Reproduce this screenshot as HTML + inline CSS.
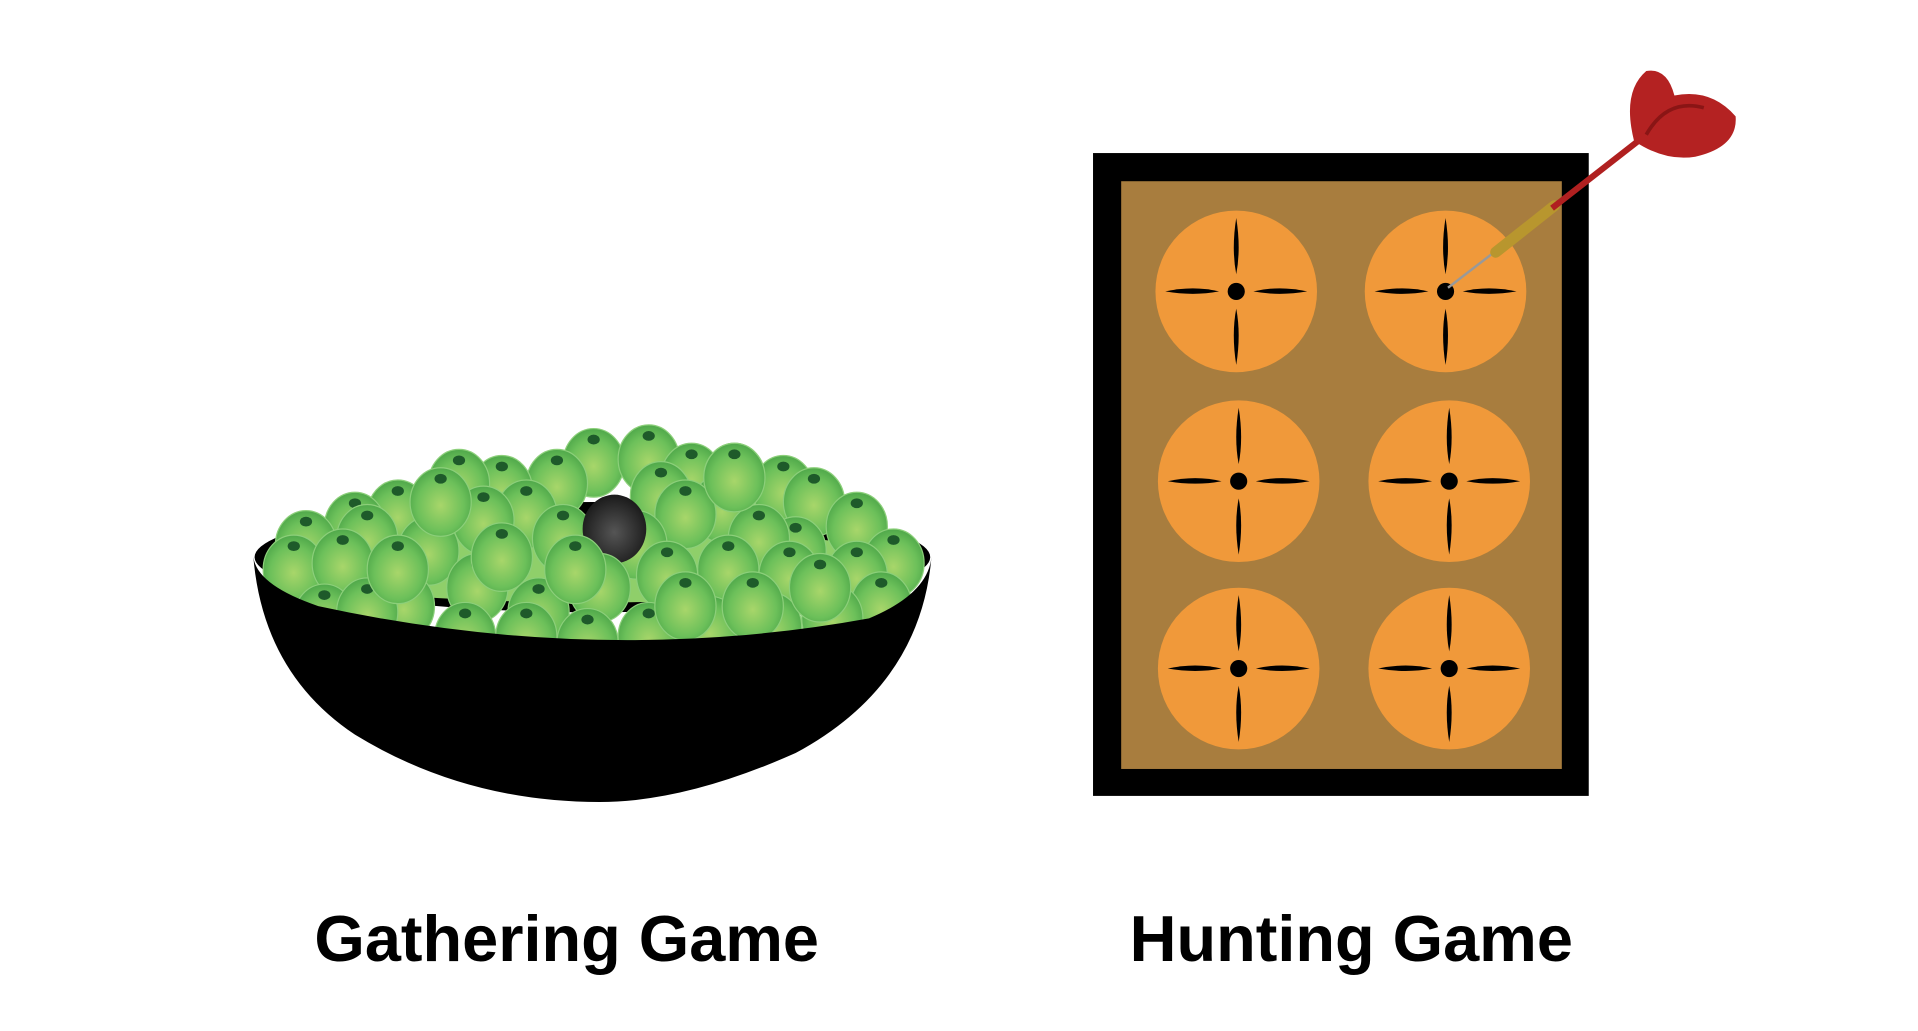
<!DOCTYPE html>
<html><head><meta charset="utf-8"><style>
html,body{margin:0;padding:0;background:#fff;width:1918px;height:1031px;overflow:hidden}
svg{display:block}
</style></head><body>
<svg width="1918" height="1031" viewBox="0 0 1567 842" preserveAspectRatio="none" xmlns="http://www.w3.org/2000/svg">
<defs>
<radialGradient id="pea" cx="0.5" cy="0.55" r="0.55"><stop offset="0" stop-color="#a8d66a"/><stop offset="0.7" stop-color="#6cc05a"/><stop offset="1" stop-color="#4fa84a"/></radialGradient>
<radialGradient id="blk" cx="0.5" cy="0.55" r="0.55"><stop offset="0" stop-color="#555"/><stop offset="1" stop-color="#1a1a1a"/></radialGradient>
<clipPath id="bowlclip"><path d="M200 300 L770 300 L770 470 Q750 500 700 510 Q490 545 260 505 Q212 490 205 470 Z"/></clipPath>
</defs>
<g>
<ellipse cx="484" cy="455" rx="276" ry="45" fill="#000"/>
<ellipse cx="484" cy="462" rx="266" ry="30" fill="#8fcf6a"/>
<g id="peas" clip-path="url(#bowlclip)"></g>
<path d="M207 455 Q210 478 260 495 Q490 545 710 505 Q758 485 761 455 Q752 560 650 615 Q560 655 490 655 Q380 655 290 600 Q215 550 207 455 Z" fill="#000"/>
</g>
<g>
<rect x="893" y="125" width="405" height="525" fill="#000"/>
<rect x="916" y="148" width="360" height="480" fill="#a87d3e"/>
<g id="targets"></g>
</g>
<g>
<line x1="1183" y1="235" x2="1222" y2="205" stroke="#999" stroke-width="2"/>
<line x1="1222" y1="206" x2="1270" y2="168" stroke="#b8962e" stroke-width="9" stroke-linecap="round"/>
<line x1="1268" y1="170" x2="1345" y2="110" stroke="#b02020" stroke-width="5"/>
<path d="M1335 115 Q1325 75 1345 58 Q1362 55 1368 78 Q1398 72 1418 95 Q1420 120 1385 128 Q1360 132 1335 115 Z" fill="#b42222"/>
<path d="M1345 110 Q1362 80 1392 88" stroke="#8a1515" stroke-width="3" fill="none"/>
</g>
<text x="463" y="785" text-anchor="middle" font-family="Liberation Sans, sans-serif" font-weight="bold" font-size="53" fill="#000">Gathering Game</text>
<text x="1104" y="785" text-anchor="middle" font-family="Liberation Sans, sans-serif" font-weight="bold" font-size="53" fill="#000">Hunting Game</text>
</svg>
<script>
var NS='http://www.w3.org/2000/svg';
var peaPos=[[485,378],[530,375],[565,390],[455,395],[410,400],[375,395],[600,390],[640,400],[665,410],[325,420],[290,430],[300,440],[250,445],[540,405],[590,415],[430,420],[700,430],[240,465],[730,460],[700,470],[650,450],[620,440],[560,420],[395,425],[350,450],[280,460],[460,440],[520,445],[360,410],[330,495],[390,480],[440,500],[490,480],[545,470],[595,465],[645,470],[720,495],[265,505],[300,500],[380,520],[430,520],[480,525],[530,520],[580,515],[630,512],[680,505],[560,495],[470,465],[410,455],[615,495],[670,480],[325,465],[600,390]];
var peas=document.getElementById('peas');
peaPos.forEach(function(p,i){
 var g=document.createElementNS(NS,'g');
 
 
 var e=document.createElementNS(NS,'ellipse');
 e.setAttribute('cx',p[0]);e.setAttribute('cy',p[1]);e.setAttribute('rx',25);e.setAttribute('ry',28);
 e.setAttribute('fill','url(#pea)');e.setAttribute('stroke','#8ccf7a');e.setAttribute('stroke-width','1');
 var h=document.createElementNS(NS,'ellipse');
 h.setAttribute('cx',p[0]);h.setAttribute('cy',p[1]-19);h.setAttribute('rx',5);h.setAttribute('ry',4);h.setAttribute('fill','#1e5a2a');
 g.appendChild(e);g.appendChild(h);peas.appendChild(g);
 if(i==28){
  var b=document.createElementNS(NS,'ellipse');
  
  
  b.setAttribute('cx',502);b.setAttribute('cy',432);b.setAttribute('rx',26);b.setAttribute('ry',28);b.setAttribute('fill','url(#blk)');
  peas.appendChild(b);
 }
});
var tgts=[[1010,238],[1181,238],[1012,393],[1184,393],[1012,546],[1184,546]];
var tg=document.getElementById('targets');
tgts.forEach(function(c){
 var g=document.createElementNS(NS,'g');
 
 
 var x=c[0],y=c[1];
 g.innerHTML='<circle cx="'+x+'" cy="'+y+'" r="66" fill="#f0993a"/>'+
 '<circle cx="'+x+'" cy="'+y+'" r="7" fill="#000"/>'+
 '<path d="M'+x+' '+(y-60)+' Q'+(x+4)+' '+(y-35)+' '+x+' '+(y-14)+' Q'+(x-4)+' '+(y-35)+' '+x+' '+(y-60)+'Z" fill="#000"/>'+
 '<path d="M'+x+' '+(y+60)+' Q'+(x+4)+' '+(y+35)+' '+x+' '+(y+14)+' Q'+(x-4)+' '+(y+35)+' '+x+' '+(y+60)+'Z" fill="#000"/>'+
 '<path d="M'+(x-58)+' '+y+' Q'+(x-35)+' '+(y-5)+' '+(x-14)+' '+y+' Q'+(x-35)+' '+(y+4)+' '+(x-58)+' '+y+'Z" fill="#000"/>'+
 '<path d="M'+(x+58)+' '+y+' Q'+(x+35)+' '+(y-5)+' '+(x+14)+' '+y+' Q'+(x+35)+' '+(y+4)+' '+(x+58)+' '+y+'Z" fill="#000"/>';
 tg.appendChild(g);
});
</script>
</body></html>
